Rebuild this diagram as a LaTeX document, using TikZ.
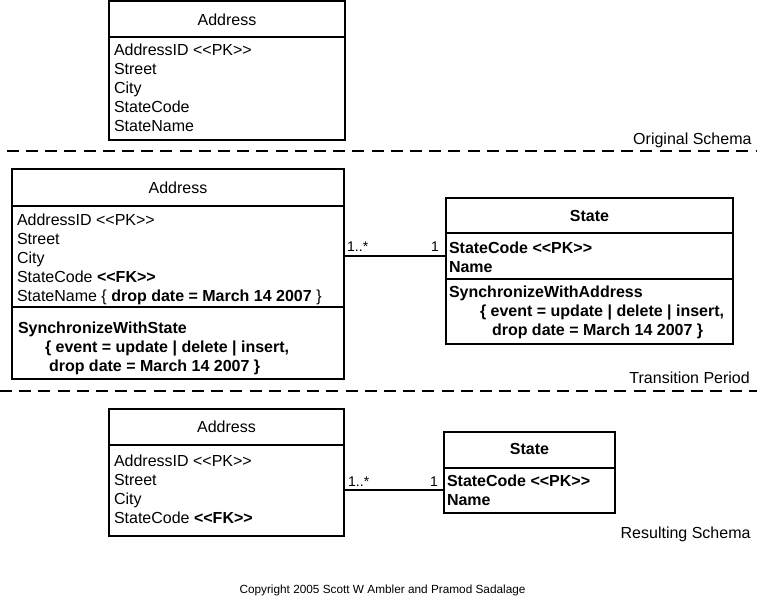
\documentclass[tikz,border=0pt]{standalone}
\usepackage{fontspec}
\setmainfont{Liberation Sans}
\begin{document}
\begin{tikzpicture}[x=1pt,y=-1pt,
  box/.style={draw, line width=1.5pt, inner sep=0pt, outer sep=0pt, anchor=north west},
  sepline/.style={line width=1.5pt},
  txt/.style={anchor=north west, inner sep=0pt, outer sep=0pt, align=left, font=\fontsize{16}{19}\selectfont},
  ttl/.style={anchor=base, inner sep=0pt, font=\fontsize{16}{19}\selectfont},
  mult/.style={anchor=base west, inner sep=0pt, font=\fontsize{14}{17}\selectfont},
  multr/.style={anchor=base east, inner sep=0pt, font=\fontsize{14}{17}\selectfont},
  lbl/.style={anchor=base east, inner sep=0pt, font=\fontsize{16}{19}\selectfont},
  divider/.style={line width=2pt, dash pattern=on 12pt off 7.2pt},
  conn/.style={line width=1.5pt}]
\useasboundingbox (0,0) rectangle (759,597);

% ---------- Original schema ----------
\node[box, minimum width=236pt, minimum height=139pt] (a1) at (109,1) {};
\draw[sepline] (a1.west |- 0,37) -- (a1.east |- 0,37);
\node[ttl] (a1t) at (227,25) {Address};
\node[txt] (a1r) at (114,42.4) {\strut AddressID <{}<PK>{}>\\Street\\City\\StateCode\\StateName};
\node[lbl] (l1) at (751.7,144) {Original Schema};
\coordinate (d1a) at (6.7,151);
\coordinate (d1b) at (757,151);
\draw[divider] (d1a) -- (d1b);

% ---------- Transition period ----------
\node[box, minimum width=332pt, minimum height=210pt] (a2) at (12,169) {};
\draw[sepline] (a2.west |- 0,206) -- (a2.east |- 0,206);
\draw[sepline] (a2.west |- 0,307) -- (a2.east |- 0,307);
\node[ttl] (a2t) at (178,193.5) {Address};
\node[txt] (a2r) at (17,212) {\strut AddressID <{}<PK>{}>\\Street\\City\\StateCode \textbf{<{}<FK>{}>}\\StateName \{ \textbf{drop date = March 14 2007} \}};
\node[txt] (a2o) at (18,320) {\strut\textbf{SynchronizeWithState}\\\hspace*{27pt}\textbf{\{ event = update | delete | insert,}\\\hspace*{31pt}\textbf{drop date = March 14 2007 \}}};

\node[box, minimum width=287pt, minimum height=146pt] (s2) at (446,198) {};
\draw[sepline] (s2.west |- 0,233) -- (s2.east |- 0,233);
\draw[sepline] (s2.west |- 0,279) -- (s2.east |- 0,279);
\node[ttl] (s2t) at (589.5,221.7) {\textbf{State}};
\node[txt] (s2r) at (449,240) {\strut\textbf{StateCode <{}<PK>{}>}\\\textbf{Name}};
\node[txt] (s2o) at (449,284.4) {\strut\textbf{SynchronizeWithAddress}\\\hspace*{31pt}\textbf{\{ event = update | delete | insert,}\\\hspace*{43pt}\textbf{drop date = March 14 2007 \}}};

\coordinate (j2) at (0,256);
\draw[conn] (a2.east |- j2) -- (s2.west |- j2);
\node[mult] (m2a) at (347,251.7) {1..*};
\node[multr] (m2b) at (439,251.7) {1};

\node[lbl] (l2) at (750,383.3) {Transition Period};
\coordinate (d2a) at (0,391);
\coordinate (d2b) at (757,391);
\draw[divider] (d2a) -- (d2b);

% ---------- Resulting schema ----------
\node[box, minimum width=235pt, minimum height=127pt] (a3) at (109,409) {};
\draw[sepline] (a3.west |- 0,445) -- (a3.east |- 0,445);
\node[ttl] (a3t) at (226.5,432.5) {Address};
\node[txt] (a3r) at (114,453.4) {\strut AddressID <{}<PK>{}>\\Street\\City\\StateCode \textbf{<{}<FK>{}>}};

\node[box, minimum width=171pt, minimum height=81pt] (s3) at (444,432) {};
\draw[sepline] (s3.west |- 0,468) -- (s3.east |- 0,468);
\node[ttl] (s3t) at (529.5,454.3) {\textbf{State}};
\node[txt] (s3r) at (447,472.7) {\strut\textbf{StateCode <{}<PK>{}>}\\\textbf{Name}};

\coordinate (j3) at (0,490);
\draw[conn] (a3.east |- j3) -- (s3.west |- j3);
\node[mult] (m3a) at (348,486) {1..*};
\node[multr] (m3b) at (438,486) {1};

\node[lbl] (l3) at (750.7,538.3) {Resulting Schema};

\node[anchor=base, inner sep=0pt, font=\fontsize{11.8}{14}\selectfont] (copy) at (382.5,593) {Copyright 2005 Scott W Ambler and Pramod Sadalage};
\end{tikzpicture}
\end{document}
